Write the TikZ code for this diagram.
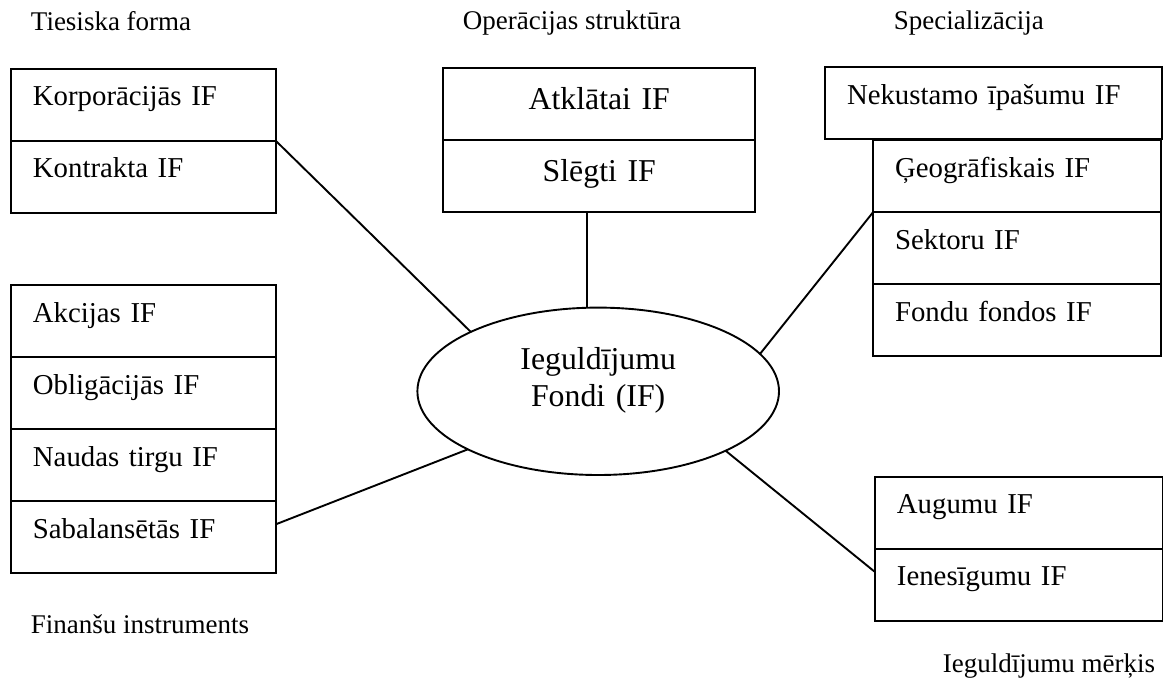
\documentclass[tikz,border=0pt]{standalone}
\usepackage{fontspec}
\setmainfont{Liberation Serif}
\usetikzlibrary{matrix,shapes.geometric}

\newcommand\cellfont{\fontsize{28.8}{34}\selectfont}
\newcommand\bigcellfont{\fontsize{31.8}{37.4}\selectfont}
\newcommand\headfont{\fontsize{27}{32}\selectfont}

\begin{document}
\begin{tikzpicture}[x=1pt, y=-1pt, line width=1.9pt,
	ifcell/.style={draw, anchor=center, outer sep=0pt, inner xsep=22pt, inner ysep=0pt, text width=221pt, align=left, text height=37pt, text depth=35pt, font=\cellfont},
	stack/.style={matrix of nodes, inner sep=0pt, outer sep=0pt, row sep=-1.9pt, anchor=north west},
	heading/.style={anchor=base west, inner sep=0pt, font=\headfont}]
	\useasboundingbox (0,0) rectangle (1163,683);

	% centre
	\node[ellipse, draw, minimum width=361.6pt, minimum height=167.4pt, inner sep=0pt, outer sep=0pt, text width=200pt, align=center, text height=21.7pt, text depth=65.7pt, font=\bigcellfont] (fondi) at (598.2,391.3) {Ieguldījumu\\Fondi (IF)};

	% Tiesiska forma
	\node[heading] (h-tf) at (30,30) {Tiesiska forma};
	\matrix (tf) [stack, nodes={ifcell}] at (10,68) {
		Korporācijās IF \\
		Kontrakta IF \\
	};

	% Operacijas struktura
	\node[heading] (h-os) at (462,29.5) {Operācijas struktūra};
	\matrix (os) [stack, nodes={ifcell, text width=268pt, align=center, text height=41pt, text depth=31pt, font=\bigcellfont}] at (442.3,67.3) {
		Atklātai IF \\
		Slēgti IF \\
	};

	% Specializacija
	\node[heading] (h-sp) at (893,29.5) {Specializācija};
	\node[ifcell, text width=293pt, anchor=north east] (nek) at (1162,67.3) {Nekustamo īpašumu IF};
	\matrix (sp) [stack, anchor=north east, nodes={ifcell, text width=244pt}] at (nek.south east) {
		Ģeogrāfiskais IF \\
		Sektoru IF \\
		Fondu fondos IF \\
	};

	% Finansu instruments
	\matrix (fi) [stack, nodes={ifcell}] at (10,284.3) {
		Akcijas IF \\
		Obligācijās IF \\
		Naudas tirgu IF \\
		Sabalansētās IF \\
	};
	\node[heading] (h-fi) at (30,633.3) {Finanšu instruments};

	% Ieguldijumu merkis
	\matrix (im) [stack, nodes={ifcell, text width=244pt}] at (874,476) {
		Augumu IF \\
		Ienesīgumu IF \\
	};
	\node[heading] (h-im) at (942,672.7) {Ieguldījumu mērķis};

	% links
	\coordinate (os-foot) at ([xshift=-12.6pt]os-2-1.south);
	\draw (tf-2-1.north east) -- (fondi.155.8);
	\draw (os-foot) -- (os-foot |- fondi.north);
	\draw (sp-2-1.north west) -- (fondi.13);
	\draw ([yshift=13pt]fi-4-1.east) -- (fondi.204.8);
	\draw (fondi.335.6) -- ([yshift=13pt]im-2-1.west);
\end{tikzpicture}
\end{document}
